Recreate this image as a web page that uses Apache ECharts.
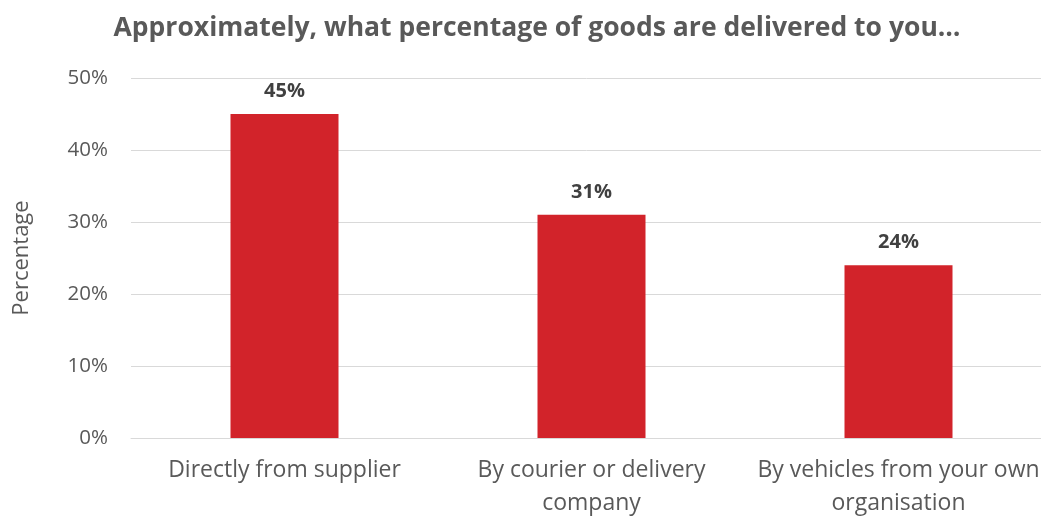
<!DOCTYPE html>
<html>
<head>
<meta charset="utf-8">
<title>Goods delivery</title>
<script src="https://cdn.jsdelivr.net/npm/echarts@6/dist/echarts.min.js"></script>
<style>
  html, body { margin: 0; padding: 0; background: #ffffff; overflow: hidden; }
  #chart { width: 1041px; height: 516px; }
</style>
</head>
<body>
<div id="chart"></div>
<script>
// Delivery channels and the share of goods for each
const categories = [
  'Directly from supplier',
  'By courier or delivery\ncompany',
  'By vehicles from your own\norganisation'
];
const shares = [45, 31, 24];
const yTicks = { min: 0, max: 50, step: 10 };

const titleText = 'Approximately, what percentage of goods are delivered to you\u2026';
const yAxisTitle = 'Percentage';

const font = '"Open Sans", "Liberation Sans", sans-serif';

const chart = echarts.init(document.getElementById('chart'));
chart.setOption({
  animation: false,
  backgroundColor: '#ffffff',
  title: {
    text: titleText,
    left: 532,
    textAlign: 'center',
    top: 10,
    textStyle: { fontFamily: font, fontSize: 26.5, fontWeight: 'bold', color: '#595959' }
  },
  grid: {
    left: 131, right: -11, top: 78, bottom: 78,
    containLabel: false,
    outerBoundsMode: 'none'
  },
  xAxis: {
    type: 'category',
    data: categories,
    axisLine: { show: true, lineStyle: { color: '#d9d9d9', width: 1 } },
    axisTick: { show: false },
    axisLabel: {
      interval: 0,
      margin: 16,
      fontFamily: font,
      fontSize: 23,
      lineHeight: 33,
      color: '#595959'
    }
  },
  yAxis: {
    type: 'value',
    min: yTicks.min,
    max: yTicks.max,
    interval: yTicks.step,
    name: yAxisTitle,
    nameLocation: 'middle',
    nameGap: 98,
    nameRotate: 90,
    nameTextStyle: { fontFamily: font, fontSize: 22, color: '#595959' },
    axisLine: { show: false },
    axisTick: { show: false },
    splitLine: { lineStyle: { color: '#d9d9d9', width: 1 } },
    axisLabel: {
      formatter: '{value}%',
      margin: 23,
      fontFamily: font,
      fontSize: 20.5,
      color: '#595959'
    }
  },
  series: [{
    type: 'bar',
    data: shares,
    barWidth: 108,
    itemStyle: { color: '#d2232a' },
    label: {
      show: true,
      position: 'top',
      distance: 13,
      formatter: p => p.value + '%',
      fontFamily: font,
      fontSize: 20,
      fontWeight: 'bold',
      color: '#404040'
    }
  }]
});
</script>
</body>
</html>
